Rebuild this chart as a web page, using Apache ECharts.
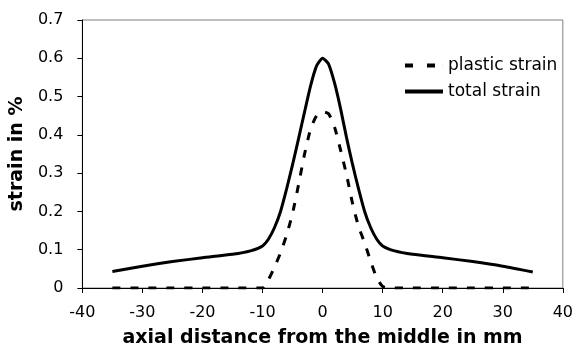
<!DOCTYPE html>
<html>
<head>
<meta charset="utf-8">
<script src="https://cdn.jsdelivr.net/npm/echarts@6/dist/echarts.min.js"></script>
<style>
  html, body { margin: 0; padding: 0; background: #fff; }
  #chart { width: 576px; height: 356px; }
</style>
</head>
<body>
<div id="chart"></div>
<script>
// axial position (mm) and strain values (%)
var totalX = [-35, -30, -25, -20, -15, -12, -10, -9, -8, -7, -6, -5, -4, -3, -2, -1, 0, 1, 2, 3, 4, 5, 6, 7, 8, 9, 10, 12, 15, 20, 25, 30, 35];
var totalY = [0.043, 0.057, 0.069, 0.079, 0.088, 0.097, 0.11, 0.128, 0.158, 0.2, 0.258, 0.322, 0.39, 0.46, 0.528, 0.58, 0.6, 0.585, 0.535, 0.468, 0.392, 0.322, 0.258, 0.2, 0.158, 0.128, 0.11, 0.097, 0.088, 0.079, 0.069, 0.057, 0.042];

var plasticX = [-35, -30, -25, -20, -15, -10, -9, -8, -7, -6, -5, -4, -3, -2, -1, 0, 1, 2, 3, 4, 5, 6, 7, 8, 9, 10, 11, 15, 20, 25, 30, 35];
var plasticY = [0, 0, 0, 0, 0, 0, 0.022, 0.055, 0.092, 0.138, 0.195, 0.27, 0.35, 0.415, 0.45, 0.46, 0.455, 0.42, 0.36, 0.295, 0.22, 0.16, 0.118, 0.07, 0.027, 0.004, 0, 0, 0, 0, 0, 0];

var xTicks = [-40, -30, -20, -10, 0, 10, 20, 30, 40];
var yTicks = [0, 0.1, 0.2, 0.3, 0.4, 0.5, 0.6, 0.7];

function pairs(xs, ys) {
    return xs.map(function (x, i) { return [x, ys[i]]; });
}

var myChart = echarts.init(document.getElementById('chart'));
var font = 'DejaVu Sans';

var option = {
    animation: false,
    textStyle: { fontFamily: font, color: '#000' },
    grid: {
        left: 82, right: 13, top: 20, bottom: 68,
        show: true, borderColor: '#808080', borderWidth: 1
    },
    legend: {
        orient: 'vertical',
        left: 400,
        top: 52,
        itemWidth: 38,
        itemHeight: 4,
        itemGap: 9,
        symbolKeepAspect: false,
        textStyle: { fontFamily: font, fontSize: 17, color: '#000' },
        data: [
            { name: 'plastic strain', icon: 'path://M0,0H8V4H0ZM22,0H30V4H22ZM37.95,0H38V4H37.95Z' },
            { name: 'total strain', icon: 'path://M0,0H38V4H0Z' }
        ]
    },
    xAxis: {
        type: 'value',
        min: xTicks[0],
        max: xTicks[xTicks.length - 1],
        interval: 10,
        name: 'axial distance from the middle in mm',
        nameLocation: 'middle',
        nameGap: 41,
        nameTextStyle: { fontFamily: font, fontSize: 19, fontWeight: 'bold', color: '#000' },
        axisLine: { onZero: false, lineStyle: { color: '#000', width: 1 } },
        axisTick: { length: 5, lineStyle: { color: '#000' } },
        axisLabel: { fontFamily: font, fontSize: 16, color: '#000', margin: 17 },
        splitLine: { show: false }
    },
    yAxis: {
        type: 'value',
        min: yTicks[0],
        max: yTicks[yTicks.length - 1],
        interval: 0.1,
        name: 'strain in %',
        nameLocation: 'middle',
        nameGap: 46,
        nameTextStyle: { fontFamily: font, fontSize: 19, fontWeight: 'bold', color: '#000' },
        axisLine: { show: true, onZero: false, lineStyle: { color: '#000', width: 1 } },
        axisTick: { show: true, length: 5, lineStyle: { color: '#000' } },
        axisLabel: {
            fontFamily: font, fontSize: 16, color: '#000', margin: 19,
            formatter: function (v) { return v === 0 ? '0' : v.toFixed(1); }
        },
        splitLine: { show: false }
    },
    series: [{
        name: 'plastic strain',
        type: 'line',
        data: pairs(plasticX, plasticY),
        symbol: 'none',
        smooth: 0.2,
        lineStyle: { color: '#000', width: 3, type: [8, 10] },
        itemStyle: { color: '#000' }
    }, {
        name: 'total strain',
        type: 'line',
        data: pairs(totalX, totalY),
        symbol: 'none',
        smooth: 0.2,
        lineStyle: { color: '#000', width: 3 },
        itemStyle: { color: '#000' }
    }]
};

myChart.setOption(option);
</script>
</body>
</html>
